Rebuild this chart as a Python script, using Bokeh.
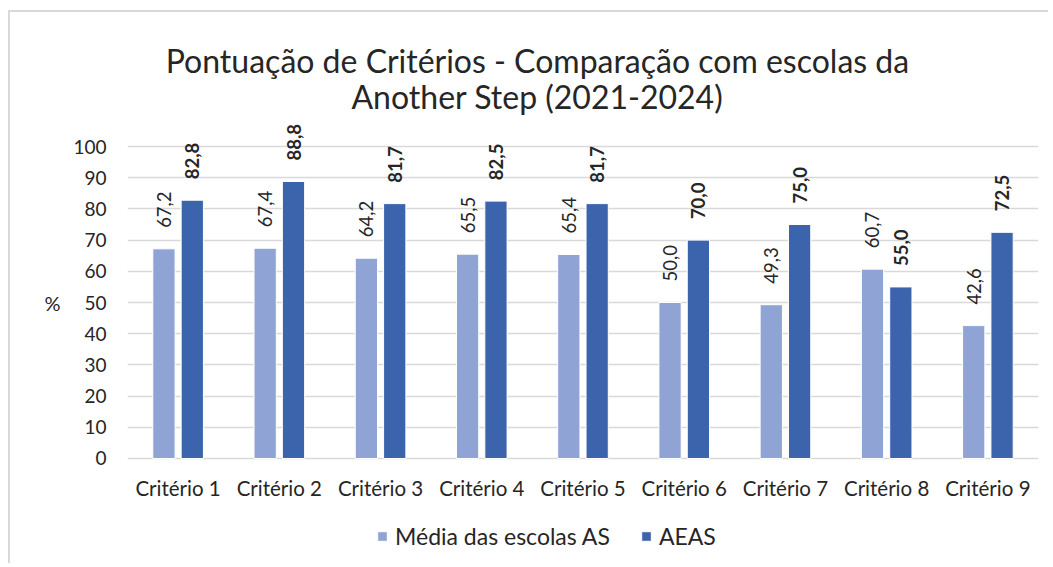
from bokeh.plotting import figure
from bokeh.models import (ColumnDataSource, FactorRange, Range1d, LabelSet, Legend,
                          LegendItem, Label, FixedTicker, LinearAxis)
from bokeh.transform import dodge
from bokeh.core.properties import value
from bokeh.embed import file_html
from bokeh.resources import INLINE

categorias = ["Critério 1", "Critério 2", "Critério 3", "Critério 4", "Critério 5",
              "Critério 6", "Critério 7", "Critério 8", "Critério 9"]
media_escolas_as = [67.2, 67.4, 64.2, 65.5, 65.4, 50.0, 49.3, 60.7, 42.6]
aeas = [82.8, 88.8, 81.7, 82.5, 81.7, 70.0, 75.0, 55.0, 72.5]
serie_nomes = ["Média das escolas AS", "AEAS"]
titulo = ["Pontuação de Critérios - Comparação com escolas da", "Another Step (2021-2024)"]
y_ticks = [0, 10, 20, 30, 40, 50, 60, 70, 80, 90, 100]
y_titulo = "%"

FONT = "Lato"
COR_CLARA = "#8FA3D5"
COR_ESCURA = "#3C64AC"
TXT = "#262626"


def fmt(v):
    return f"{v:.1f}".replace(".", ",")


src = ColumnDataSource(dict(
    cat=categorias,
    m=media_escolas_as,
    a=aeas,
    ml=[fmt(v) for v in media_escolas_as],
    al=[fmt(v) for v in aeas],
    base=[0] * len(categorias),
))

# frame extended above and below the 0-100 value area so that the title,
# category names and legend are drawn inside it (annotations are clipped to the frame)
p = figure(width=1040, height=553, output_backend="svg", toolbar_location=None,
           x_range=FactorRange(*categorias, range_padding=0),
           y_range=Range1d(-32.7, 140.4),
           min_border_left=117, min_border_right=12, min_border_top=8,
           min_border_bottom=5)
p.styles = {"margin-left": "8px", "margin-top": "10px",
            "border-left": "2px solid #D9D9D9", "border-top": "2px solid #D9D9D9"}
p.x_range.factor_padding = 0
p.outline_line_color = None
p.background_fill_color = "white"
p.border_fill_color = "white"

r1 = p.vbar(x=dodge("cat", -0.14, range=p.x_range), top="m", width=0.22, source=src,
            fill_color=COR_CLARA, line_color="white", line_width=1)
r2 = p.vbar(x=dodge("cat", 0.14, range=p.x_range), top="a", width=0.22, source=src,
            fill_color=COR_ESCURA, line_color="white", line_width=1)

l1 = LabelSet(x=dodge("cat", -0.14, range=p.x_range), y="m", text="ml", source=src,
              angle=1.5708, text_align="left", text_baseline="middle", y_offset=21,
              text_font=value(FONT), text_font_size="18.5px", text_color=TXT)
l2 = LabelSet(x=dodge("cat", 0.14, range=p.x_range), y="a", text="al", source=src,
              angle=1.5708, text_align="left", text_baseline="middle", y_offset=21,
              text_font=value(FONT), text_font_size="18.5px", text_color=TXT,
              text_font_style="bold")
p.add_layout(l1)
p.add_layout(l2)

# category names
lc = LabelSet(x="cat", y="base", text="cat", source=src, text_align="center",
              text_baseline="middle", y_offset=-30, text_font=value(FONT),
              text_font_size="20.5px", text_color=TXT)
p.add_layout(lc)

# axes
p.xaxis.visible = False
p.yaxis.ticker = FixedTicker(ticks=y_ticks)
p.yaxis.axis_line_color = None
p.yaxis.major_tick_line_color = None
p.yaxis.minor_tick_line_color = None
p.yaxis.major_label_standoff = 15
p.yaxis.major_label_text_font = FONT
p.yaxis.major_label_text_font_size = "19px"
p.yaxis.major_label_text_color = TXT

# "%" axis title, centred on the 0-100 value span
ax_t = LinearAxis(ticker=FixedTicker(ticks=[50]), major_label_overrides={50: y_titulo},
                  axis_line_color=None, major_tick_line_color=None,
                  minor_tick_line_color=None, major_label_standoff=4,
                  major_label_text_font=FONT, major_label_text_font_size="20px",
                  major_label_text_color=TXT)
p.add_layout(ax_t, "left")

p.xgrid.grid_line_color = None
p.ygrid.grid_line_color = "#D9D9D9"
p.ygrid.grid_line_width = 1.5

# title
p.add_layout(Label(x=4.05, y=127.6, text=titulo[0], text_align="center",
                   text_baseline="middle", text_font=FONT,
                   text_font_size="32px", text_color=TXT))
p.add_layout(Label(x=4.05, y=116.0, text=titulo[1], text_align="center",
                   text_baseline="middle", text_font=FONT,
                   text_font_size="32px", text_color=TXT))

legend = Legend(items=[LegendItem(label=serie_nomes[0], renderers=[r1]),
                       LegendItem(label=serie_nomes[1], renderers=[r2])],
                orientation="horizontal", location=(249, 10),
                padding=0, margin=0, spacing=30, label_standoff=7,
                glyph_width=12, glyph_height=12,
                label_text_font=FONT, label_text_font_size="23px",
                label_text_color=TXT, border_line_color=None,
                background_fill_alpha=0)
p.add_layout(legend, "center")

open("out.html", "w").write(file_html(p, INLINE))
